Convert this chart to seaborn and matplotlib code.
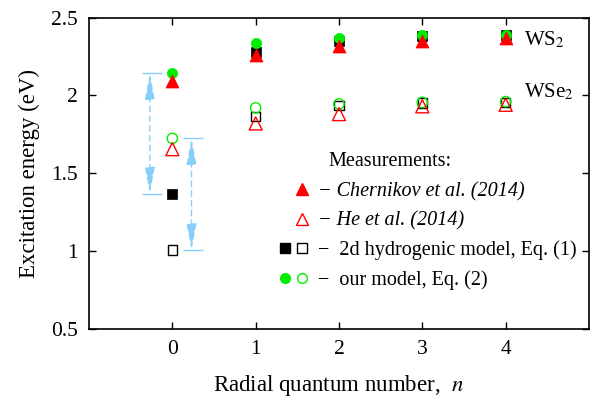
import numpy as np
import pandas as pd
import matplotlib
matplotlib.use('Agg')
import matplotlib.pyplot as plt
import seaborn as sns
from matplotlib.lines import Line2D
from matplotlib.legend_handler import HandlerTuple

# data
n = [0, 1, 2, 3, 4]
ws2_chernikov = [2.09, 2.26, 2.32, 2.35, 2.37]
wse2_he = [1.655, 1.82, 1.88, 1.93, 1.94]
ws2_hydrogenic = [1.37, 2.28, 2.35, 2.38, 2.39]
wse2_hydrogenic = [1.007, 1.865, 1.935, 1.95, 1.955]
ws2_model = [2.142, 2.335, 2.37, 2.39, 2.39]
wse2_model = [1.724, 1.92, 1.945, 1.955, 1.96]

sns.set_style('ticks', {'axes.edgecolor': 'black', 'text.color': 'black',
                        'xtick.color': 'black', 'ytick.color': 'black',
                        'axes.labelcolor': 'black'})
plt.rcParams['font.family'] = ['Liberation Serif', 'DejaVu Serif']
plt.rcParams['mathtext.fontset'] = 'stix'

arrow_blue = '#87CEFA'

fig = plt.figure(figsize=(5.91, 3.97), dpi=100)
ax = fig.add_axes([0.1506, 0.1713, 0.846, 0.7845])

# 2d hydrogenic model (squares)
sns.scatterplot(x=n, y=ws2_hydrogenic, marker='s', s=48, color='black',
                edgecolor='black', linewidth=0.5, ax=ax, zorder=3)
sns.scatterplot(x=n, y=wse2_hydrogenic, marker='s', s=48, facecolor='none',
                edgecolor='black', linewidth=1.0, ax=ax, zorder=3)
# our model (circles)
sns.scatterplot(x=n, y=ws2_model, marker='o', s=55, color='#00ee00',
                edgecolor='#00ee00', linewidth=0.5, ax=ax, zorder=4)
sns.scatterplot(x=n, y=wse2_model, marker='o', s=55, facecolor='none',
                edgecolor='#00ee00', linewidth=1.0, ax=ax, zorder=4)
# measurements (triangles)
sns.scatterplot(x=n, y=ws2_chernikov, marker='^', s=88, color='red',
                edgecolor='red', linewidth=0.5, ax=ax, zorder=5)
sns.scatterplot(x=n, y=wse2_he, marker='^', s=88, facecolor='none',
                edgecolor='red', linewidth=1.0, ax=ax, zorder=5)

# binding-energy arrows at n = 0
arrows = [(-0.27, -0.37, -0.12, ws2_model[0], ws2_hydrogenic[0]),
          (0.23, 0.125, 0.365, wse2_model[0], wse2_hydrogenic[0])]
for xa, x0, x1, ytop, ybot in arrows:
    ax.hlines([ytop, ybot], x0, x1, color=arrow_blue, lw=1.0, zorder=1)
    ax.annotate('', xy=(xa, ybot), xytext=(xa, ytop),
                arrowprops=dict(arrowstyle='<|-|>,head_length=1.6,head_width=0.3',
                                color=arrow_blue, lw=1.0, linestyle=(0, (4, 3)),
                                shrinkA=0, shrinkB=0), zorder=1)

ax.text(4.22, 2.323, 'WS$_2$', fontsize=15, va='baseline', ha='left')
ax.text(4.22, 1.99, 'WSe$_2$', fontsize=15, va='baseline', ha='left')

ax.set_xlim(-1, 5)
ax.set_ylim(0.5, 2.5)
ax.set_xticks([0, 1, 2, 3, 4])
ax.set_yticks([0.5, 1, 1.5, 2, 2.5])
ax.set_yticklabels(['0.5', '1', '1.5', '2', '2.5'])
ax.tick_params(direction='in', top=True, right=True, length=5, width=1,
               labelsize=15.5, pad=8)
for sp in ax.spines.values():
    sp.set_linewidth(1.2)
ax.set_xlabel('Radial quantum number,  $n$', fontsize=16.5, labelpad=10)
ax.set_ylabel('Excitation energy (eV)', fontsize=16.5, labelpad=8)

# legend
blank = Line2D([], [], linestyle='none', marker=None)
h_ch = (blank, Line2D([], [], ls='none', marker='^', ms=9, color='red', mec='red'))
h_he = (blank, Line2D([], [], ls='none', marker='^', ms=9, mfc='none', mec='red', mew=1.0))
h_hy = (Line2D([], [], ls='none', marker='s', ms=7, color='black'),
        Line2D([], [], ls='none', marker='s', ms=7, mfc='none', mec='black', mew=1.0))
h_mo = (Line2D([], [], ls='none', marker='o', ms=7, color='#00ee00'),
        Line2D([], [], ls='none', marker='o', ms=7, mfc='none', mec='#00ee00', mew=1.0))
labels = ['\u2212 Chernikov et al. (2014)', '\u2212 He et al. (2014)',
          '\u2212  2d hydrogenic model, Eq. (1)', '\u2212  our model, Eq. (2)']
leg = ax.legend([h_ch, h_he, h_hy, h_mo], labels,
                handler_map={tuple: HandlerTuple(ndivide=None, pad=0.4)},
                loc='upper left', bbox_to_anchor=(0.382, 0.472),
                frameon=False, fontsize=14.5, handlelength=1.3,
                handletextpad=0.6, labelspacing=0.5, borderpad=0,
                borderaxespad=0)
for t in leg.get_texts()[:2]:
    t.set_fontstyle('italic')
ax.text(0.478, 0.522, 'Measurements:', transform=ax.transAxes,
        fontsize=14.5, va='baseline', ha='left')

fig.savefig('out.png', dpi=100)
